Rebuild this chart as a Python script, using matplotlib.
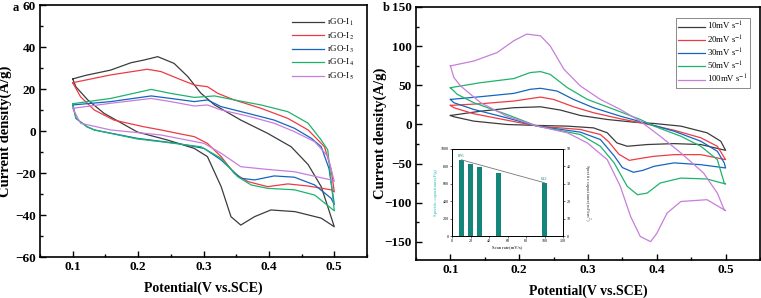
import matplotlib
matplotlib.use("Agg")
import matplotlib.pyplot as plt
from matplotlib.ticker import MultipleLocator

plt.rcParams['font.family'] = ['Liberation Serif', 'DejaVu Serif']
plt.rcParams['mathtext.fontset'] = 'stix'

# ---------------- Panel a data (rGO-I1..I5) ----------------
a_labels = ['rGO-I$_1$', 'rGO-I$_2$', 'rGO-I$_3$', 'rGO-I$_4$', 'rGO-I$_5$']

a1_up_V = [0.100, 0.120, 0.158, 0.189, 0.209, 0.230, 0.255, 0.276, 0.296, 0.317, 0.357, 0.398, 0.434, 0.460, 0.480, 0.500]
a1_up_I = [24.8, 26.5, 29.0, 32.5, 33.8, 35.4, 32.2, 25.9, 18.0, 12.4, 5.2, -1.1, -7.5, -16.0, -26.5, -45.6]
a1_lo_V = [0.500, 0.480, 0.440, 0.403, 0.378, 0.357, 0.342, 0.327, 0.306, 0.286, 0.245, 0.199, 0.148, 0.123, 0.105, 0.100]
a1_lo_I = [-45.6, -41.5, -38.4, -37.6, -40.8, -44.8, -40.8, -26.5, -12.2, -8.3, -4.3, -0.5, 8.4, 14.8, 21.0, 24.8]

a2_up_V = [0.100, 0.158, 0.214, 0.235, 0.260, 0.286, 0.306, 0.322, 0.347, 0.388, 0.429, 0.460, 0.485, 0.495, 0.500]
a2_up_I = [23.0, 26.7, 29.4, 28.3, 25.1, 21.9, 21.1, 17.9, 14.8, 10.8, 6.0, 0.5, -7.5, -18.0, -29.0]
a2_lo_V = [0.500, 0.495, 0.460, 0.429, 0.398, 0.368, 0.347, 0.327, 0.306, 0.286, 0.260, 0.235, 0.209, 0.163, 0.133, 0.112, 0.100]
a2_lo_I = [-29.0, -28.0, -26.2, -25.2, -26.5, -24.1, -20.2, -12.2, -5.9, -2.7, -1.1, 0.5, 2.0, 5.2, 10.0, 16.3, 23.0]

a3_up_V = [0.100, 0.158, 0.220, 0.250, 0.286, 0.306, 0.327, 0.368, 0.408, 0.439, 0.465, 0.480, 0.492, 0.500]
a3_up_I = [12.4, 14.0, 16.7, 15.5, 14.0, 14.8, 11.6, 8.4, 5.2, 1.3, -3.5, -7.5, -18.0, -35.0]
a3_lo_V = [0.500, 0.495, 0.470, 0.439, 0.408, 0.378, 0.357, 0.327, 0.301, 0.260, 0.199, 0.133, 0.122, 0.105, 0.100]
a3_lo_I = [-35.0, -32.0, -25.7, -22.0, -21.4, -23.3, -22.5, -13.8, -8.3, -5.9, -3.5, 0.5, 2.0, 6.0, 12.4]

a4_up_V = [0.100, 0.158, 0.220, 0.250, 0.286, 0.317, 0.347, 0.388, 0.429, 0.460, 0.480, 0.490, 0.500]
a4_up_I = [13.0, 15.5, 19.8, 17.9, 16.0, 16.7, 14.8, 12.4, 9.2, 3.7, -4.3, -9.0, -38.0]
a4_lo_V = [0.500, 0.470, 0.439, 0.398, 0.373, 0.352, 0.327, 0.296, 0.235, 0.199, 0.133, 0.122, 0.105, 0.100]
a4_lo_I = [-38.0, -30.5, -28.0, -27.3, -25.7, -21.7, -13.0, -7.5, -5.1, -3.8, 0.5, 2.0, 6.0, 13.0]

a5_up_V = [0.100, 0.158, 0.220, 0.250, 0.286, 0.306, 0.327, 0.368, 0.408, 0.439, 0.470, 0.490, 0.500]
a5_up_I = [10.8, 13.2, 15.5, 14.0, 11.9, 12.4, 10.0, 7.1, 3.7, -0.3, -5.1, -12.0, -24.0]
a5_lo_V = [0.500, 0.495, 0.439, 0.398, 0.357, 0.327, 0.301, 0.235, 0.158, 0.112, 0.100]
a5_lo_I = [-24.0, -23.3, -19.4, -18.3, -17.0, -10.6, -5.9, -1.9, 0.5, 3.7, 10.8]

# ---------------- Panel b data (scan rates) ----------------
b_labels = ['10mV s$^{-1}$', '20mV s$^{-1}$', '30mV s$^{-1}$', '50mV s$^{-1}$', '100mV s$^{-1}$']

b1_up_V = [0.100, 0.144, 0.192, 0.231, 0.260, 0.289, 0.328, 0.366, 0.396, 0.435, 0.473, 0.493, 0.500]
b1_up_I = [11.5, 17.0, 21.4, 22.6, 18.4, 11.5, 6.4, 3.0, 1.3, -2.1, -10.6, -21.4, -33.0]
b1_lo_V = [0.500, 0.464, 0.425, 0.386, 0.357, 0.342, 0.328, 0.308, 0.270, 0.226, 0.182, 0.134, 0.105, 0.100]
b1_lo_I = [-33.0, -25.6, -24.4, -25.6, -27.8, -23.5, -10.6, -4.3, -2.1, -1.2, 0.0, 4.3, 9.9, 11.5]

b2_up_V = [0.100, 0.144, 0.192, 0.231, 0.250, 0.279, 0.308, 0.347, 0.386, 0.425, 0.464, 0.488, 0.500]
b2_up_I = [24.4, 26.5, 29.9, 35.0, 32.0, 22.6, 15.0, 7.3, 0.4, -7.3, -17.0, -27.8, -44.9]
b2_lo_V = [0.500, 0.464, 0.425, 0.396, 0.375, 0.360, 0.345, 0.330, 0.318, 0.289, 0.226, 0.182, 0.134, 0.105, 0.100]
b2_lo_I = [-44.9, -38.5, -38.5, -40.6, -43.5, -45.8, -38.0, -22.0, -12.8, -6.4, -2.0, 5.5, 13.7, 21.4, 24.4]

b3_up_V = [0.100, 0.144, 0.192, 0.216, 0.231, 0.255, 0.279, 0.308, 0.347, 0.386, 0.425, 0.464, 0.488, 0.498, 0.500]
b3_up_I = [32.0, 35.5, 39.7, 44.9, 46.2, 42.7, 32.0, 21.4, 10.6, 1.3, -8.5, -21.4, -34.2, -49.0, -55.5]
b3_lo_V = [0.500, 0.464, 0.425, 0.396, 0.380, 0.366, 0.350, 0.338, 0.318, 0.289, 0.226, 0.182, 0.134, 0.105, 0.100]
b3_lo_I = [-55.5, -51.3, -49.0, -53.4, -58.5, -61.0, -55.0, -40.0, -19.2, -9.8, -2.0, 8.5, 19.2, 27.8, 32.0]

b4_up_V = [0.100, 0.144, 0.192, 0.216, 0.231, 0.245, 0.270, 0.299, 0.338, 0.376, 0.396, 0.435, 0.464, 0.488, 0.498, 0.500]
b4_up_I = [47.0, 53.4, 58.6, 66.3, 67.5, 64.0, 47.0, 32.0, 19.2, 6.4, -2.1, -15.0, -27.8, -44.9, -74.7, -76.0]
b4_lo_V = [0.500, 0.473, 0.435, 0.405, 0.386, 0.372, 0.357, 0.338, 0.318, 0.289, 0.226, 0.182, 0.134, 0.110, 0.100]
b4_lo_I = [-76.0, -69.6, -68.4, -74.7, -87.6, -89.7, -79.0, -49.0, -27.8, -12.8, -2.0, 12.8, 27.8, 38.5, 47.0]

b5_up_V = [0.100, 0.134, 0.168, 0.192, 0.211, 0.231, 0.245, 0.265, 0.289, 0.318, 0.347, 0.376, 0.405, 0.435, 0.468, 0.488, 0.498, 0.500]
b5_up_I = [74.8, 81.0, 91.9, 106.8, 115.4, 113.2, 100.4, 70.5, 49.1, 32.0, 19.2, 4.2, -15.0, -36.3, -62.0, -87.6, -109.0, -110.0]
b5_lo_V = [0.500, 0.473, 0.435, 0.415, 0.400, 0.391, 0.376, 0.362, 0.347, 0.328, 0.299, 0.270, 0.226, 0.182, 0.144, 0.115, 0.105, 0.100]
b5_lo_I = [-110.0, -96.0, -98.3, -113.0, -139.0, -149.6, -143.0, -117.6, -79.0, -44.9, -23.5, -10.6, -2.1, 10.6, 27.8, 49.0, 60.0, 74.8]

# ---------------- Inset data ----------------
scan_rates = [10, 20, 30, 50, 100]
spec_cap = [876, 830, 795, 725, 612]
trend_x = [10, 100]
trend_y = [876, 612]
cap_labels = ['876', '612']

colors = ['#3c3c3c', '#ee3b43', '#1565c0', '#1db36e', '#c77edb']

a_series = [(a1_up_V, a1_up_I, a1_lo_V, a1_lo_I), (a2_up_V, a2_up_I, a2_lo_V, a2_lo_I),
            (a3_up_V, a3_up_I, a3_lo_V, a3_lo_I), (a4_up_V, a4_up_I, a4_lo_V, a4_lo_I),
            (a5_up_V, a5_up_I, a5_lo_V, a5_lo_I)]
b_series = [(b1_up_V, b1_up_I, b1_lo_V, b1_lo_I), (b2_up_V, b2_up_I, b2_lo_V, b2_lo_I),
            (b3_up_V, b3_up_I, b3_lo_V, b3_lo_I), (b4_up_V, b4_up_I, b4_lo_V, b4_lo_I),
            (b5_up_V, b5_up_I, b5_lo_V, b5_lo_I)]

W, H = 761, 298
fig = plt.figure(figsize=(W / 100, H / 100), dpi=100)

def px_rect(x0, y0, x1, y1):
    return [x0 / W, 1 - y1 / H, (x1 - x0) / W, (y1 - y0) / H]

ax1 = fig.add_axes(px_rect(40, 5, 367, 257))
ax2 = fig.add_axes(px_rect(416, 7, 760, 260))

def style(ax, ymaj, ymin, ylab_x):
    ax.set_xlim(0.05, 0.55)
    ax.set_xticks([0.1, 0.2, 0.3, 0.4, 0.5])
    ax.xaxis.set_minor_locator(MultipleLocator(0.05))
    ax.yaxis.set_major_locator(MultipleLocator(ymaj))
    ax.yaxis.set_minor_locator(MultipleLocator(ymin))
    ax.tick_params(which='both', direction='in', top=False, right=False, width=1.0)
    ax.tick_params(which='major', length=4, pad=3)
    ax.tick_params(which='minor', length=2.5)
    for s in ax.spines.values():
        s.set_linewidth(1.2)
    for lab in ax.get_xticklabels() + ax.get_yticklabels():
        lab.set_fontsize(9.5)
        lab.set_fontweight('bold')
    ax.set_xlabel('Potential(V vs.SCE)', fontsize=10, fontweight='bold', labelpad=6)
    ax.set_ylabel('Current density(A/g)', fontsize=10.5, fontweight='bold')
    ax.yaxis.set_label_coords(ylab_x, 0.5)

for (uv, ui, lv, li), c, lab in zip(a_series, colors, a_labels):
    ax1.plot(uv + lv, ui + li, color=c, lw=0.9, label=lab)
ax1.set_ylim(-60, 60)
style(ax1, 20, 10, (12 - 40) / 327)
ax1.legend(loc='upper right', frameon=False, fontsize=6.5, handlelength=3.6,
           handletextpad=0.3, labelspacing=0.25, bbox_to_anchor=(0.985, 0.985))

for (uv, ui, lv, li), c, lab in zip(b_series, colors, b_labels):
    ax2.plot(uv + lv, ui + li, color=c, lw=0.9, label=lab)
ax2.set_ylim(-173, 150)
style(ax2, 50, 25, (387 - 416) / 344)
leg2 = ax2.legend(loc='upper right', frameon=True, fontsize=6.3, handlelength=3.0,
                  handletextpad=0.3, labelspacing=0.12, bbox_to_anchor=(0.985, 0.975),
                  fancybox=False, borderpad=0.3)
leg2.get_frame().set_edgecolor('#555555')
leg2.get_frame().set_linewidth(0.6)

fig.text(13 / W, 1 - 8 / H, 'a', fontsize=9, fontweight='bold', va='center', ha='left')
fig.text(383 / W, 1 - 8 / H, 'b', fontsize=9, fontweight='bold', va='center', ha='left')

# ---------------- Inset ----------------
axi = fig.add_axes(px_rect(452, 149, 563, 236))
axi.bar(scan_rates, spec_cap, width=5, color='#13857a')
axi.plot(trend_x, trend_y, color='#777777', lw=0.6)
axi.set_xlim(0, 120)
axi.set_ylim(0, 1000)
axi.set_xticks(range(0, 121, 20))
axi.set_yticks(range(0, 1001, 200))
axi.tick_params(labelsize=3.0, length=1.5, width=0.4, pad=1)
for s in axi.spines.values():
    s.set_linewidth(0.6)
axi.set_xlabel('Scan rate(mV/s)', fontsize=3.3, labelpad=1)
axi.set_ylabel('Specific capacitance(F/g)', fontsize=3.3, color='#22b5b0', labelpad=2)
axi.text(trend_x[0], trend_y[0] + 15, cap_labels[0], fontsize=3.2, color='#13857a', ha='center', va='bottom')
axi.text(trend_x[1], trend_y[1] + 15, cap_labels[1], fontsize=3.2, color='#13857a', ha='center', va='bottom')
axr = axi.twinx()
axr.set_ylim(0, 50)
axr.set_yticks(range(0, 51, 10))
axr.tick_params(labelsize=3.0, length=1.5, width=0.4, pad=1)
axr.set_ylabel('Specific capacitance(mF/cm$^2$)', fontsize=3.3, color='#333333',
               rotation=270, va='bottom')
axr.yaxis.set_label_coords(1.16, 0.5)
for s in axr.spines.values():
    s.set_linewidth(0.6)

fig.savefig('out.png', dpi=100)
